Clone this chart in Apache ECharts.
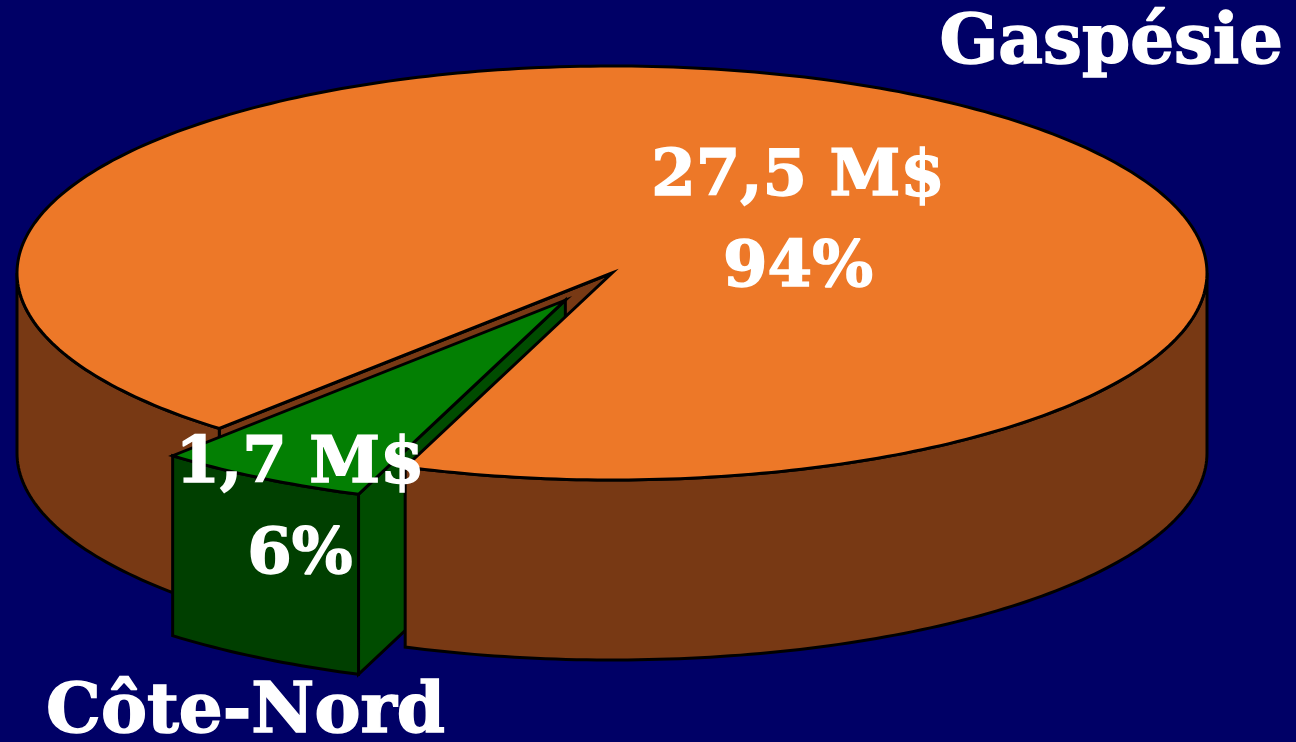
<!DOCTYPE html>
<html>
<head>
<meta charset="utf-8">
<title>Gaspésie / Côte-Nord</title>
<script src="https://cdn.jsdelivr.net/npm/echarts@6/dist/echarts.min.js"></script>
<style>
    html, body { margin: 0; padding: 0; background: #000066; }
    #main { width: 1296px; height: 742px; }
</style>
</head>
<body>
<div id="main"></div>
<script>
    // données
    var regions = ['Gaspésie', 'Côte-Nord'];
    var amounts = [27.5, 1.7];   // M$
    var explode = [0, 0.153];    // part détachée

    // styles
    var topColors = ['#ED7828', '#037F03'];
    var sideColors = ['#783914', '#003F00'];
    var cutColors = ['#783914', '#004C00'];

    // mise en page du camembert 3D
    var CX = 612, CY = 273, RX = 595, RY = 207, DEPTH = 180;
    var START = 131.3;  // degrés, sens horaire depuis 3 h
    var valuePos = [[798, 224], [300, 511]];
    var namePos = [[1283, 45, 'right'], [46, 714, 'left']];

    var total = 0;
    for (var t = 0; t < amounts.length; t++) total += amounts[t];

    var FONT = '"DejaVu Serif", "Liberation Serif", serif';
    var txtStyle = {
        fill: '#fff', stroke: '#fff', lineWidth: 1.5,
        textShadowColor: '#000', textShadowOffsetX: 3, textShadowOffsetY: 3, textShadowBlur: 0
    };

    function fmtAmount(v) {
        return v.toFixed(1).replace('.', ',') + ' M$';
    }

    function renderItem(params, api) {
        var i = params.dataIndex;
        var before = 0;
        for (var j = 0; j < i; j++) before += amounts[j];
        var a1 = START * Math.PI / 180 + before / total * 2 * Math.PI;
        var a2 = a1 + amounts[i] / total * 2 * Math.PI;
        var mid = (a1 + a2) / 2;
        var cx = CX + explode[i] * RX * Math.cos(mid);
        var cy = CY + explode[i] * RY * Math.sin(mid);

        function p(a, d) {
            return [cx + RX * Math.cos(a), cy + RY * Math.sin(a) + d];
        }
        function arc(from, to, d) {
            var n = Math.max(2, Math.ceil(Math.abs(to - from) / (Math.PI / 180)));
            var pts = [];
            for (var s = 0; s <= n; s++) pts.push(p(from + (to - from) * s / n, d));
            return pts;
        }
        function poly(points, fill, z2) {
            return {
                type: 'polygon', z2: z2,
                shape: { points: points },
                style: { fill: fill, stroke: '#000', lineWidth: 3 }
            };
        }

        var children = [];
        // faces de coupe visibles
        if (-Math.cos(a1) > 0) {
            children.push(poly([[cx, cy], p(a1, 0), p(a1, DEPTH), [cx, cy + DEPTH]], cutColors[i], 10 + i));
        }
        if (Math.cos(a2) > 0) {
            children.push(poly([[cx, cy], p(a2, 0), p(a2, DEPTH), [cx, cy + DEPTH]], cutColors[i], 10 + i));
        }
        // paroi extérieure (partie avant)
        for (var k = 0; k < 3; k++) {
            var lo = Math.max(a1, 2 * Math.PI * k);
            var hi = Math.min(a2, 2 * Math.PI * k + Math.PI);
            if (hi > lo) {
                children.push(poly(arc(lo, hi, 0).concat(arc(hi, lo, DEPTH)), sideColors[i], 20 + i));
            }
        }
        // dessus
        children.push(poly([[cx, cy]].concat(arc(a1, a2, 0)), topColors[i], 30 + i));

        // étiquettes
        var pct = Math.round(amounts[i] / total * 100) + '%';
        children.push({
            type: 'text', z2: 50,
            x: valuePos[i][0], y: valuePos[i][1],
            style: Object.assign({
                text: fmtAmount(amounts[i]) + '\n' + pct,
                font: 'bold 64px ' + FONT,
                align: 'center', verticalAlign: 'middle',
                lineHeight: 91
            }, txtStyle)
        });
        children.push({
            type: 'text', z2: 50,
            x: namePos[i][0], y: namePos[i][1],
            style: Object.assign({
                text: regions[i],
                font: 'bold 69px ' + FONT,
                align: namePos[i][2], verticalAlign: 'middle'
            }, txtStyle)
        });

        return { type: 'group', children: children };
    }

    var myChart = echarts.init(document.getElementById('main'));
    var option = {
        backgroundColor: '#000066',
        animation: false,
        series: [{
            type: 'custom',
            coordinateSystem: 'none',
            renderItem: renderItem,
            data: amounts.map(function (v, idx) { return { name: regions[idx], value: v }; })
        }]
    };
    myChart.setOption(option);
</script>
</body>
</html>
